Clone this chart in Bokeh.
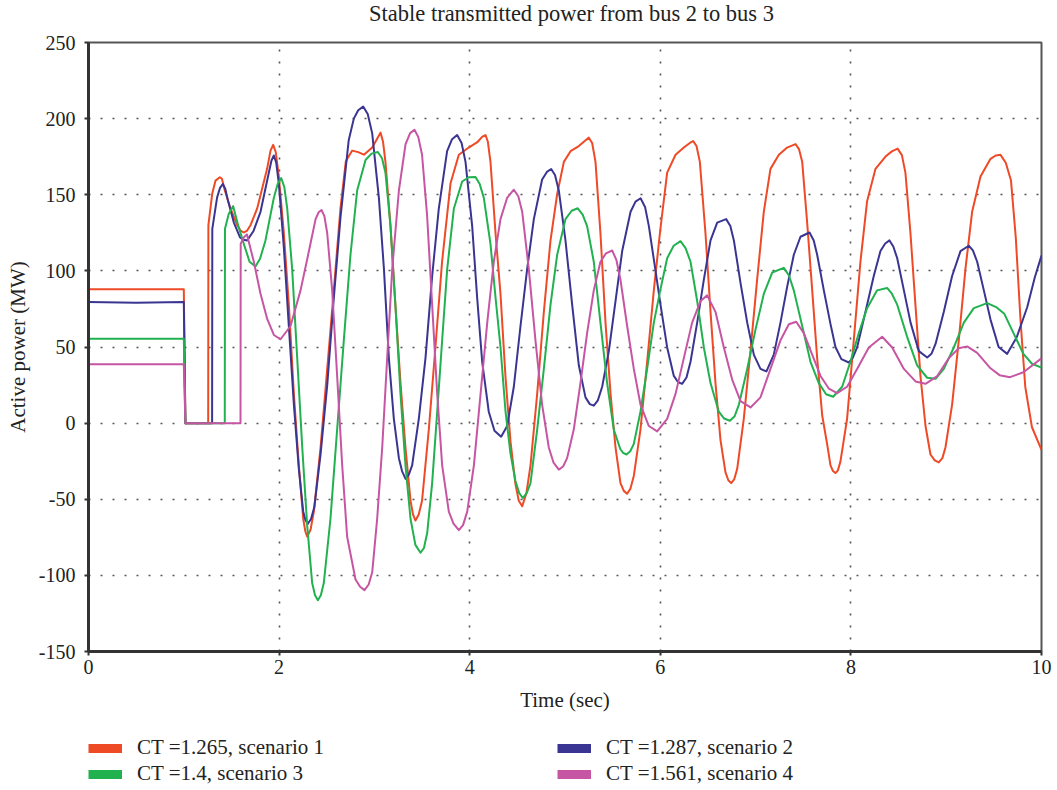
from bokeh.plotting import figure
from bokeh.models import (FixedTicker, Legend, LegendItem, Range1d, Label,
                          CustomJSTickFormatter)
from bokeh.layouts import column
from bokeh.embed import file_html
from bokeh.resources import INLINE

TITLE = "Stable transmitted power from bus 2 to bus 3"
X_LABEL = "Time (sec)"
Y_LABEL = "Active power (MW)"
X_TICKS = [0, 2, 4, 6, 8, 10]
Y_TICKS = [-150, -100, -50, 0, 50, 100, 150, 200, 250]

NAMES = ["CT =1.265, scenario 1", "CT =1.287, scenario 2",
         "CT =1.4, scenario 3", "CT =1.561, scenario 4"]
COLORS = ["#ee4a26", "#3a3592", "#22b14f", "#c656a3"]

t1 = [0, 1.0, 1.017, 1.256, 1.258, 1.298, 1.333, 1.378, 1.40, 1.43, 1.49, 1.56, 1.595, 1.63,
      1.665, 1.70, 1.77, 1.874, 1.91, 1.938, 1.965, 1.997, 2.05, 2.102, 2.155, 2.207, 2.253,
      2.275, 2.295, 2.33, 2.365, 2.435, 2.505, 2.574, 2.644, 2.70, 2.767, 2.83, 2.89, 2.977,
      3.03, 3.064, 3.09, 3.116, 3.169, 3.22, 3.274, 3.326, 3.379, 3.405, 3.431, 3.465, 3.5,
      3.571, 3.64, 3.71, 3.799, 3.886, 3.99, 4.08, 4.13, 4.166, 4.19, 4.218, 4.271,
      4.323, 4.376, 4.428, 4.48, 4.515, 4.551, 4.595, 4.638, 4.708, 4.778, 4.848, 4.918,
      4.988, 5.058, 5.145, 5.21, 5.25, 5.285, 5.32, 5.372, 5.425, 5.478, 5.53, 5.582, 5.617,
      5.652, 5.687, 5.722, 5.792, 5.862, 5.932, 6.0, 6.072, 6.16, 6.247, 6.31, 6.345, 6.38,
      6.415, 6.474, 6.527, 6.579, 6.632, 6.684, 6.714, 6.744, 6.775, 6.807, 6.876, 6.946,
      7.016, 7.086, 7.156, 7.244, 7.331, 7.419, 7.455, 7.489, 7.541, 7.594, 7.646, 7.699,
      7.751, 7.786, 7.812, 7.838, 7.864, 7.89, 7.96, 8.03, 8.1, 8.17, 8.258, 8.363, 8.43,
      8.49, 8.535, 8.572, 8.625, 8.677, 8.73, 8.783, 8.835, 8.88, 8.922, 8.96, 8.992, 9.062,
      9.132, 9.202, 9.272, 9.36, 9.465, 9.52, 9.57, 9.625, 9.68, 9.73, 9.78, 9.83, 9.90, 10.0]
p1 = [88, 88, 0, 0, 130, 150.6, 159.3, 161.5, 160.5, 153, 141, 130, 126.5, 125.2,
      126.5, 130, 141, 167, 179, 182.8, 178, 162, 124.7, 77.8, 19.2, -27.7, -62.8,
      -71, -74.5, -70, -58, -16, 35.6, 87.2, 141, 172, 179, 178, 176.3, 181,
      187, 190.8, 185, 171.6, 129.4, 77.8, 26.3, -16, -51, -60, -64, -60, -51,
      -4.2, 49.7, 106, 157.5, 176.3, 181, 184.5, 188, 189.2, 185, 171.6, 124.7,
      85, 30, -12, -40, -51, -54.6, -46, -27.7, 19.2, 73, 120, 150.5,
      171.6, 178.6, 182, 185.5, 187.5, 184, 171.6, 124.7, 66, 19.2, -16, -39.4, -44.5,
      -46.4, -43, -34.7, -4.2, 40.3, 87.2, 127, 164.5, 176.3, 181, 184, 185.2, 182,
      171.6, 124.7, 73.1, 26.3, -11.3, -32.3, -37.5, -39.4, -37, -30, 2.8, 47.3,
      94.2, 138.8, 167, 176.3, 181, 183.3, 180, 171.6, 131.7, 87.2, 42.7, 5,
      -14, -27.7, -31.5, -32.8, -31, -25.3, 2.8, 54.4, 106, 145.8, 167, 175.1, 178.5,
      180.3, 176, 164.5, 124.7, 77.8, 30.9, -1.9, -20.6, -24.5, -25.8, -23, -16, 12.2,
      54.4, 101.3, 138.8, 162, 173.6, 175.8, 176.2, 171, 159.3, 122, 67.4, 23.6, -2.7, -17.5]

t2 = [0, 0.5, 1.0, 1.017, 1.297, 1.299, 1.35, 1.38, 1.409, 1.435, 1.46, 1.525, 1.59, 1.625,
      1.665, 1.73, 1.805, 1.892, 1.92, 1.945, 1.97, 1.997, 2.05, 2.102, 2.155, 2.207, 2.253,
      2.275, 2.3, 2.335, 2.37, 2.435, 2.505, 2.574, 2.644, 2.73, 2.784, 2.83, 2.882, 2.93,
      2.977, 3.047, 3.1, 3.152, 3.204, 3.257, 3.29, 3.327, 3.36, 3.396, 3.466, 3.536, 3.606,
      3.676, 3.763, 3.815, 3.868, 3.915, 3.956, 4.026, 4.078, 4.131, 4.2, 4.26, 4.33, 4.393,
      4.463, 4.533, 4.603, 4.673, 4.76, 4.81, 4.855, 4.895, 4.935, 5.005, 5.075, 5.145,
      5.215, 5.26, 5.302, 5.345, 5.39, 5.46, 5.53, 5.6, 5.688, 5.74, 5.793, 5.84, 5.88, 5.95,
      6.002, 6.072, 6.142, 6.185, 6.229, 6.275, 6.317, 6.387, 6.457, 6.527, 6.597, 6.691,
      6.735, 6.772, 6.842, 6.912, 6.982, 7.051, 7.114, 7.191, 7.261, 7.331, 7.401, 7.471,
      7.566, 7.61, 7.646, 7.716, 7.786, 7.838, 7.9, 7.978, 8.02, 8.065, 8.153, 8.24, 8.31,
      8.36, 8.405, 8.445, 8.486, 8.556, 8.626, 8.713, 8.801, 8.845, 8.888, 8.975, 9.062,
      9.15, 9.237, 9.28, 9.325, 9.395, 9.465, 9.55, 9.64, 9.74, 9.85, 9.93, 10.0]
p2 = [79.5, 79, 79.5, 0, 0, 127.6, 148.4, 154.5, 157, 154, 147, 131.7, 122, 120.5,
      120, 126, 138.8, 164.5, 172.5, 175.8, 171, 157.5, 115.3, 63.8, 12.2, -30, -58,
      -63.5, -66.3, -63, -55, -20.6, 25, 82, 135, 185.6, 200, 205.5, 207.9, 203,
      190.3, 148, 101.3, 42.7, 2.8, -23, -31.5, -36.6, -34, -27.7, 2.8, 42.7, 96.6,
      141, 178.6, 186.5, 189.2, 184, 171.6, 129.4, 82.5, 40.3, 7.5, -5, -8.9, -1.9,
      23.9, 63.8, 101.3, 134, 160, 165, 166.9, 163, 152.8, 120, 77.8, 38,
      16.9, 12.5, 11.5, 15, 23.9, 47.3, 80.2, 113, 138.8, 145.5, 147.7, 142, 129.4, 100,
      77.8, 49.7, 31, 27, 25.8, 30, 40.3, 66, 94.2, 120, 131.7, 134,
      129.5, 120, 91.9, 66, 44.8, 35.6, 34, 45, 66, 89.5, 110.6, 122.4,
      125.2, 120, 110.6, 87.2, 65, 50, 42, 39.8, 43, 49.7, 73.1, 96.6, 113,
      118, 120, 116, 108.3, 87.2, 66, 47.3, 43.1, 45.5, 52, 73.1, 96.6,
      113, 116.5, 113.5, 106, 87.2, 68, 50, 45.5, 56.4, 76.1, 95.8, 110]

t3 = [0, 1.0, 1.017, 1.43, 1.432, 1.472, 1.518, 1.57, 1.63, 1.69, 1.752, 1.80, 1.857, 1.945,
      1.985, 2.022, 2.055, 2.085, 2.137, 2.19, 2.243, 2.295, 2.347, 2.377, 2.407, 2.438,
      2.469, 2.539, 2.609, 2.679, 2.749, 2.819, 2.907, 2.97, 3.036, 3.08, 3.116, 3.169, 3.22,
      3.274, 3.326, 3.379, 3.43, 3.484, 3.52, 3.554, 3.606, 3.659, 3.711, 3.764, 3.834,
      3.921, 3.99, 4.061, 4.105, 4.148, 4.218, 4.271, 4.323, 4.376, 4.428, 4.48, 4.52, 4.557,
      4.598, 4.638, 4.708, 4.778, 4.848, 4.918, 5.005, 5.07, 5.134, 5.185, 5.232, 5.302,
      5.372, 5.442, 5.512, 5.58, 5.61, 5.645, 5.685, 5.722, 5.792, 5.862, 5.932, 6.002,
      6.072, 6.14, 6.212, 6.265, 6.317, 6.387, 6.457, 6.527, 6.614, 6.67, 6.73, 6.78, 6.825,
      6.912, 6.999, 7.086, 7.174, 7.296, 7.35, 7.401, 7.489, 7.576, 7.663, 7.74, 7.814,
      7.908, 7.995, 8.083, 8.17, 8.275, 8.38, 8.43, 8.486, 8.59, 8.695, 8.8, 8.888, 8.975,
      9.08, 9.185, 9.29, 9.43, 9.53, 9.61, 9.71, 9.81, 9.9, 10.0]
p3 = [55.5, 55.5, 0, 0, 127.6, 137.5, 142.5, 130, 117.7, 106, 102.9, 108, 120, 148,
      157, 161, 155, 141, 101.3, 42.7, -16, -67.5, -105, -113, -116.3, -113,
      -105, -62.8, -4.2, 54.4, 110.6, 152.8, 172.8, 177, 178.1, 174, 164.5, 129.4, 77.8,
      19.2, -27.7, -62.8, -80, -85.1, -82, -72.2, -39.4, 7.5, 54.4, 101.3, 141,
      158.7, 161.5, 161.7, 157, 148, 117.7, 82.5, 50, 7.5, -20, -38, -46, -49.2,
      -46, -39.4, -4.2, 35.6, 77.8, 110.6, 134, 139.5, 141.1, 137, 129.4, 106,
      66, 26.3, -4.2, -17, -19.5, -20.6, -18.5, -13.6, 7.5, 35.6, 66, 88,
      108.3, 116.5, 119.5, 115, 106, 80.2, 49.7, 26.3, 7.5, 3, 1.6, 4.5, 12.2,
      35.6, 61.4, 84.9, 98.9, 102, 97, 87.2, 63.8, 40.3, 26.3, 19, 17.3,
      23.9, 40.3, 59.1, 75.5, 87.2, 88.8, 85, 77.8, 56.7, 37.9, 29.8, 29.1, 35.6,
      49.7, 66, 75.5, 78.8, 76, 71.8, 58.6, 45.5, 39, 36.5]

t4 = [0, 1.0, 1.017, 1.595, 1.597, 1.63, 1.662, 1.735, 1.805, 1.875, 1.945, 2.015, 2.12,
      2.225, 2.313, 2.383, 2.415, 2.445, 2.475, 2.505, 2.557, 2.609, 2.662, 2.714, 2.802,
      2.85, 2.896, 2.94, 2.977, 3.029, 3.082, 3.134, 3.187, 3.257, 3.327, 3.375, 3.42, 3.46,
      3.5, 3.553, 3.606, 3.659, 3.711, 3.781, 3.83, 3.886, 3.93, 3.974, 4.044, 4.114, 4.184,
      4.253, 4.323, 4.393, 4.463, 4.51, 4.551, 4.62, 4.69, 4.76, 4.83, 4.88, 4.935, 4.98,
      5.022, 5.092, 5.162, 5.232, 5.302, 5.372, 5.43, 5.495, 5.54, 5.582, 5.652, 5.722,
      5.792, 5.88, 5.967, 6.072, 6.16, 6.247, 6.334, 6.422, 6.492, 6.579, 6.667, 6.754,
      6.842, 6.947, 7.051, 7.156, 7.261, 7.349, 7.426, 7.506, 7.594, 7.681, 7.768, 7.856,
      7.96, 8.065, 8.188, 8.328, 8.433, 8.556, 8.678, 8.783, 8.906, 9.028, 9.132, 9.22,
      9.325, 9.465, 9.56, 9.67, 9.81, 10.0]
p4 = [38.6, 38.6, 0, 0, 117.8, 122, 124, 106, 85, 68.4, 57.9, 55.1, 63.8,
      87.2, 113, 134, 138.5, 140, 136, 124.7, 87.2, 31, -27.7, -74.6, -102.7,
      -107.5, -109.7, -106, -98, -62.8, -16, 42.7, 101.3, 152.8, 183.3, 190.5, 192.7, 188,
      176.3, 136.4, 77.8, 19.2, -27.7, -58.1, -66, -70.3, -67, -58.1, -27.7, 19.2, 66,
      106, 134, 148, 153.3, 149, 138.8, 101.3, 54.4, 12.2, -16, -26, -30.5, -28.5,
      -23, -4.2, 26.3, 59.1, 87.2, 106, 111.5, 113.4, 107, 94.2, 63.8, 35.6,
      12.2, -1.9, -5.4, 2.8, 19.2, 42.7, 66, 80.2, 83.9, 73.1, 49.7, 28.6,
      14.5, 10.3, 16.9, 35.6, 54.4, 64.9, 66.6, 59.1, 45, 31, 22.7, 19.7,
      23.9, 35.6, 49.7, 56.7, 49.7, 35.6, 27.4, 25.8, 30.9, 42.7, 49.2, 50.4,
      46.2, 36, 31.5, 30.2, 33.4, 42.5]

SERIES = [(t1, p1), (t2, p2), (t3, p3), (t4, p4)]

FONT = "Liberation Serif"
TXT = "#222222"
FRAME_LEFT = 88   # the column aligns every strip's frame with the chart frame


def blank_strip(height):
    f = figure(width=1057, height=height, x_range=Range1d(0, 1057), y_range=Range1d(0, height),
               output_backend="svg", toolbar_location=None,
               min_border_left=0, min_border_right=0, min_border_top=0, min_border_bottom=0)
    f.axis.visible = False
    f.grid.visible = False
    f.outline_line_color = None
    f.background_fill_color = "white"
    f.border_fill_color = "white"
    return f


# title strip
top = blank_strip(30)
top.add_layout(Label(x=571 - FRAME_LEFT, y=17, x_units="screen", y_units="screen", text=TITLE,
                     text_align="center", text_baseline="middle", text_font=FONT,
                     text_font_size="22.5px", text_color=TXT))

# main chart
p = figure(width=1057, height=690, x_range=Range1d(0, 10), y_range=Range1d(-150, 250),
           output_backend="svg", toolbar_location=None,
           min_border_left=88, min_border_right=16, min_border_top=12, min_border_bottom=69)
p.background_fill_color = "white"
p.border_fill_color = "white"
p.outline_line_color = "#555555"
p.outline_line_width = 2

fmt = CustomJSTickFormatter(code="return tick.toString();")
for ax in (p.xaxis[0], p.yaxis[0]):
    ax.axis_line_color = "#333333"
    ax.axis_line_width = 3
    ax.major_tick_line_color = "#333333"
    ax.major_tick_line_width = 2
    ax.major_tick_in = 0
    ax.major_tick_out = 4
    ax.minor_tick_line_color = None
    ax.major_label_text_font = FONT
    ax.major_label_text_font_size = "20px"
    ax.major_label_text_color = TXT
    ax.axis_label_text_font = FONT
    ax.axis_label_text_font_size = "21px"
    ax.axis_label_text_font_style = "normal"
    ax.axis_label_text_color = TXT
    ax.formatter = fmt

p.xaxis[0].ticker = FixedTicker(ticks=X_TICKS)
p.yaxis[0].ticker = FixedTicker(ticks=Y_TICKS)
p.xaxis[0].axis_label = X_LABEL
p.yaxis[0].axis_label = Y_LABEL
p.xaxis[0].major_label_standoff = 4
p.yaxis[0].major_label_standoff = 9
p.xaxis[0].axis_label_standoff = 11
p.yaxis[0].axis_label_standoff = 6

p.xgrid[0].ticker = FixedTicker(ticks=[2, 4, 6, 8])
p.ygrid[0].ticker = FixedTicker(ticks=[-100, -50, 0, 50, 100, 150, 200])
for g in (p.xgrid[0], p.ygrid[0]):
    g.grid_line_color = "#555555"
    g.grid_line_width = 1.6
    g.grid_line_dash = "2 10"

for (tt, vv), col in zip(SERIES, COLORS):
    p.line(tt, vv, line_color=col, line_width=2, line_join="round")

# legend strip below the chart
leg = blank_strip(70)
swatches = {}
for col, name in zip(COLORS, NAMES):
    swatches[name] = leg.line(x=[-20, -10], y=[-20, -20], line_color=col,
                              line_width=9, line_cap="butt")
order = [NAMES[0], NAMES[2], NAMES[1], NAMES[3]]   # column-major fill -> rows 1/2, 3/4
items = [LegendItem(label=n, renderers=[swatches[n]]) for n in order]

legend = Legend(items=items, ncols=2, location=(0, 4))
legend.glyph_width = 34
legend.glyph_height = 20
legend.label_standoff = 15
legend.label_width = 419
legend.spacing = 1
legend.padding = 0
legend.margin = 0
legend.border_line_alpha = 0
legend.background_fill_alpha = 0
legend.label_text_font = FONT
legend.label_text_font_size = "21px"
legend.label_text_color = TXT
legend.label_height = 20
leg.add_layout(legend, "center")

layout = column(top, p, leg, spacing=0)
open("out.html", "w").write(file_html(layout, INLINE))
